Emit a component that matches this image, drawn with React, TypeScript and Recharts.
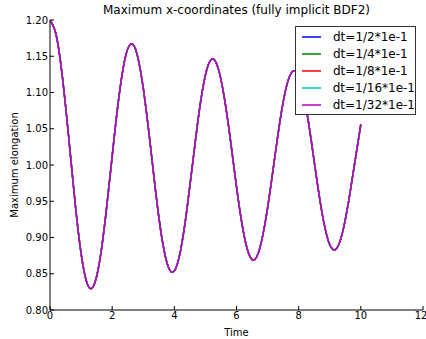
import React from 'react';
import { LineChart, Line, XAxis, YAxis } from 'recharts';

const times = [
  0, 0.2, 0.4, 0.6, 0.8, 1.0, 1.2, 1.4, 1.6, 1.8, 2.0, 2.2, 2.4, 2.6, 2.8, 3.0, 3.2, 3.4, 3.6, 3.8,
  4.0, 4.2, 4.4, 4.6, 4.8, 5.0, 5.2, 5.4, 5.6, 5.8, 6.0, 6.2, 6.4, 6.6, 6.8, 7.0, 7.2, 7.4, 7.6, 7.8,
  8.0, 8.2, 8.4, 8.6, 8.8, 9.0, 9.2, 9.4, 9.6, 9.8, 10.0,
];
const elongation = [
  1.2, 1.179, 1.121, 1.039, 0.951, 0.878, 0.836, 0.833, 0.868, 0.933, 1.012, 1.088, 1.144, 1.167, 1.153, 1.106, 1.038, 0.963, 0.899, 0.86,
  0.854, 0.882, 0.937, 1.006, 1.074, 1.124, 1.146, 1.135, 1.095, 1.036, 0.97, 0.913, 0.877, 0.87, 0.894, 0.941, 1.001, 1.061, 1.107, 1.129,
  1.122, 1.088, 1.035, 0.975, 0.923, 0.89, 0.884, 0.905, 0.948, 1.002, 1.056,
];
const seriesNames = ['dt=1/2*1e-1', 'dt=1/4*1e-1', 'dt=1/8*1e-1', 'dt=1/16*1e-1', 'dt=1/32*1e-1'];
const seriesColors = ['#0000ff', '#008000', '#ff0000', '#00bfbf', '#bf00bf'];
const xTicks = [0, 2, 4, 6, 8, 10, 12];
const yTicks = [0.8, 0.85, 0.9, 0.95, 1.0, 1.05, 1.1, 1.15, 1.2];

// all five step sizes overlap at this scale
const data = times.map((t, i) => {
  const row: Record<string, number> = { t };
  seriesNames.forEach((_, k) => {
    row[`s${k}`] = elongation[i];
  });
  return row;
});

const font = '"DejaVu Sans", sans-serif';
const tickStyle = { fill: '#000', fontSize: 10, fontFamily: font };

const LegendBox = () => (
  <div
    style={{
      position: 'absolute',
      top: 26,
      left: 295,
      width: 121,
      boxSizing: 'border-box',
      border: '1px solid #333',
      background: '#fff',
      padding: '1px 0 1px 6px',
      fontSize: 12,
      fontFamily: font,
      color: '#000',
    }}
  >
    {seriesNames.map((n, i) => (
      <div key={n} style={{ display: 'flex', alignItems: 'center', height: 17, whiteSpace: 'nowrap' }}>
        <span style={{ width: 19, height: 2, background: seriesColors[i], opacity: 0.75, marginRight: 12 }} />
        <span>{n}</span>
      </div>
    ))}
  </div>
);

export default function App() {
  return (
    <div style={{ position: 'absolute', left: 0, top: 0, width: 426, height: 339, background: '#fff' }}>
      <div style={{ position: 'absolute', top: 3, left: 50, width: 373, textAlign: 'center', fontSize: 12, fontFamily: font }}>
        Maximum x-coordinates (fully implicit BDF2)
      </div>
      <LineChart width={426} height={339} data={data} margin={{ top: 20, right: 3, bottom: 0, left: 0 }}>
        <XAxis
          dataKey="t"
          type="number"
          domain={[0, 12]}
          ticks={xTicks}
          height={29}
          tickSize={-4}
          tickMargin={6}
          tick={tickStyle}
          stroke="#000"
          allowDataOverflow
          label={{ value: 'Time', position: 'insideBottom', offset: 3, style: { fill: '#000', fontSize: 10, fontFamily: font } }}
        />
        <XAxis
          xAxisId="top"
          orientation="top"
          dataKey="t"
          type="number"
          domain={[0, 12]}
          ticks={xTicks}
          height={0}
          tickSize={-4}
          tickFormatter={() => ''}
          stroke="#000"
        />
        <YAxis
          type="number"
          domain={[0.8, 1.2]}
          ticks={yTicks}
          width={50}
          tickSize={-4}
          tickMargin={6}
          tick={tickStyle}
          tickFormatter={(v: number) => v.toFixed(2)}
          stroke="#000"
          allowDataOverflow
          label={{ value: 'Maximum elongation', angle: -90, position: 'insideLeft', offset: 14, style: { textAnchor: 'middle', fill: '#000', fontSize: 10, fontFamily: font } }}
        />
        <YAxis
          yAxisId="right"
          orientation="right"
          type="number"
          domain={[0.8, 1.2]}
          ticks={yTicks}
          width={0}
          tickSize={-4}
          tickFormatter={() => ''}
          stroke="#000"
        />
        {seriesNames.map((n, k) => (
          <Line
            key={n}
            type="natural"
            dataKey={`s${k}`}
            name={n}
            stroke={seriesColors[k]}
            strokeWidth={1.5}
            dot={false}
            isAnimationActive={false}
          />
        ))}
      </LineChart>
      <LegendBox />
    </div>
  );
}
